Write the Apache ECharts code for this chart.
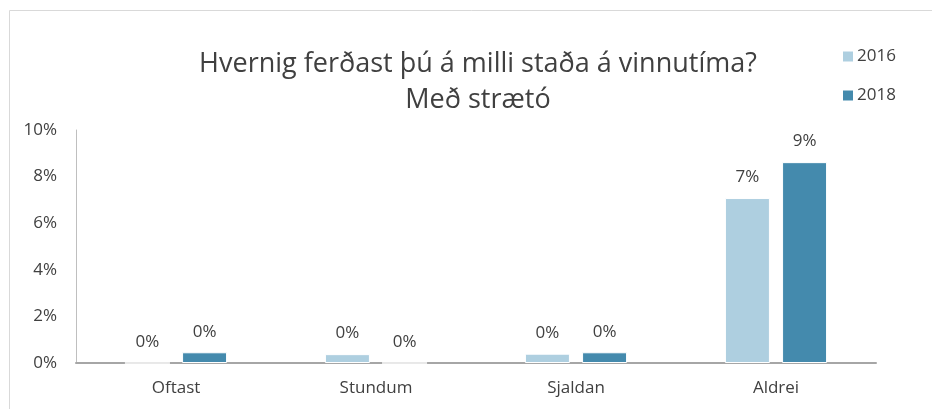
<!DOCTYPE html>
<html>
<head>
<meta charset="utf-8">
<script src="https://cdn.jsdelivr.net/npm/echarts@6/dist/echarts.min.js"></script>
<style>
  html, body { margin: 0; padding: 0; background: #fff; }
  #chart { width: 932px; height: 409px; }
</style>
</head>
<body>
<div id="chart"></div>
<script>
const categories = ["Oftast", "Stundum", "Sjaldan", "Aldrei"];
const values2016 = [0, 0.38, 0.4, 7.08];
const values2018 = [0.46, 0, 0.46, 8.62];
const yTicks = [0, 2, 4, 6, 8, 10];

const font = "'Open Sans', sans-serif";
const textColor = "#404040";

const chart = echarts.init(document.getElementById("chart"));

const labelOpt = {
  show: true,
  position: "top",
  distance: 12,
  color: textColor,
  fontSize: 17,
  fontFamily: font,
  formatter: (p) => Math.round(p.value) + "%",
};

chart.setOption({
  animation: false,
  textStyle: { fontFamily: font },
  title: {
    text: "Hvernig ferðast þú á milli staða á vinnutíma?\nMeð strætó",
    left: 473,
    textAlign: "center",
    top: 41,
    textStyle: {
      fontSize: 27,
      fontWeight: "normal",
      color: textColor,
      fontFamily: font,
      lineHeight: 36,
    },
  },
  legend: {
    orient: "vertical",
    left: 841,
    top: 48,
    padding: 0,
    itemWidth: 12,
    itemHeight: 12,
    itemGap: 22,
    icon: "rect",
    textStyle: { fontSize: 17, color: textColor, fontFamily: font, padding: [0, 0, 0, -2] },
    data: ["2016", "2018"],
  },
  graphic: [
    {
      type: "rect",
      shape: { x: 9.5, y: 10.5, width: 1000, height: 1000 },
      style: { fill: "none", stroke: "#d9d9d9", lineWidth: 1 },
      silent: true,
    },
  ],
  grid: { left: 76, right: 56, top: 130, bottom: 46 },
  xAxis: {
    type: "category",
    data: categories,
    axisTick: { show: false },
    axisLine: { lineStyle: { color: "#a6a6a6", width: 2 } },
    axisLabel: { color: textColor, fontSize: 17, fontFamily: font, margin: 17 },
  },
  yAxis: {
    type: "value",
    min: yTicks[0],
    max: yTicks[yTicks.length - 1],
    interval: 2,
    splitLine: { show: false },
    axisLine: { show: true, lineStyle: { color: "#bfbfbf", width: 1 } },
    axisTick: { show: false },
    axisLabel: {
      color: textColor,
      fontSize: 17,
      fontFamily: font,
      margin: 19,
      formatter: (v) => v + "%",
    },
  },
  series: [
    {
      name: "2016",
      type: "bar",
      data: values2016,
      barWidth: 45,
      barGap: "27%",
      itemStyle: { color: "#aecfe0", borderColor: "#ffffff", borderWidth: 1 },
      label: labelOpt,
    },
    {
      name: "2018",
      type: "bar",
      data: values2018,
      barWidth: 45,
      itemStyle: { color: "#448aad", borderColor: "#ffffff", borderWidth: 1 },
      label: labelOpt,
    },
  ],
});
</script>
</body>
</html>
